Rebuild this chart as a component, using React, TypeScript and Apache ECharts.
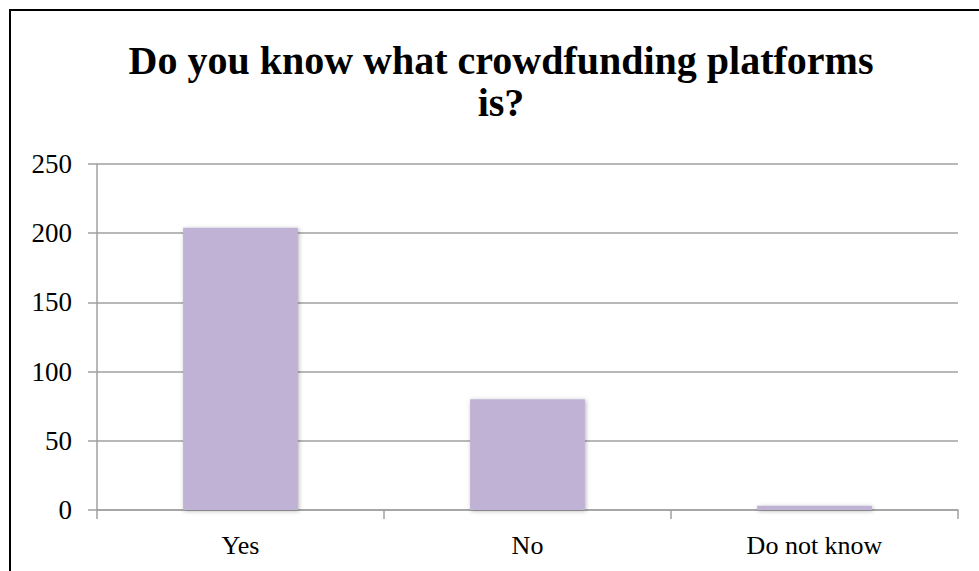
import React, { useEffect, useRef } from "react";
import * as echarts from "echarts";

const titleText = "Do you know what crowdfunding platforms\nis?";
const categories = ["Yes", "No", "Do not know"];
const values = [204, 80, 3];
const yTicks = { min: 0, max: 250, interval: 50 };

const FONT = '"Liberation Serif", "Times New Roman", serif';

export default function App() {
  const ref = useRef<HTMLDivElement>(null);
  useEffect(() => {
    if (!ref.current) return;
    const chart = echarts.init(ref.current, null, { renderer: "svg" });
    chart.setOption({
      animation: false,
      backgroundColor: "#ffffff",
      grid: { left: 97, right: 21, top: 164, bottom: 61, containLabel: false },
      graphic: [
        {
          type: "rect",
          shape: { x: 10, y: 10, width: 1200, height: 800 },
          style: { fill: "none", stroke: "#000000", lineWidth: 2 },
          silent: true,
        },
        {
          type: "text",
          x: 501,
          y: 39,
          style: {
            text: titleText,
            textAlign: "center",
            textVerticalAlign: "top",
            fontFamily: FONT,
            fontWeight: "bold",
            fontSize: 40,
            lineHeight: 42,
            fill: "#000000",
          },
        },
      ],
      xAxis: {
        type: "category",
        data: categories,
        boundaryGap: true,
        axisLine: { show: true, lineStyle: { color: "#a0a0a0", width: 1.5 } },
        axisTick: { show: true, length: 9, inside: false, lineStyle: { color: "#a0a0a0", width: 1.5 } },
        axisLabel: { color: "#000000", fontFamily: FONT, fontSize: 26, margin: 22 },
        splitLine: { show: false },
      },
      yAxis: {
        type: "value",
        min: yTicks.min,
        max: yTicks.max,
        interval: yTicks.interval,
        axisLine: { show: true, lineStyle: { color: "#a0a0a0", width: 1.5 } },
        axisTick: { show: true, length: 9, inside: false, lineStyle: { color: "#a0a0a0", width: 1.5 } },
        axisLabel: { color: "#000000", fontFamily: FONT, fontSize: 27, margin: 25 },
        splitLine: { show: true, lineStyle: { color: "#a0a0a0", width: 1.5 } },
      },
      series: [
        {
          type: "bar",
          data: values,
          barWidth: "40%",
          itemStyle: {
            color: "#c0b2d4",
            shadowColor: "rgba(0,0,0,0.3)",
            shadowBlur: 4,
            shadowOffsetX: 1,
            shadowOffsetY: 1,
          },
        },
      ],
    });
    return () => chart.dispose();
  }, []);
  return (
    <div
      ref={ref}
      style={{ position: "fixed", left: 0, top: 0, width: 979, height: 571 }}
    />
  );
}
